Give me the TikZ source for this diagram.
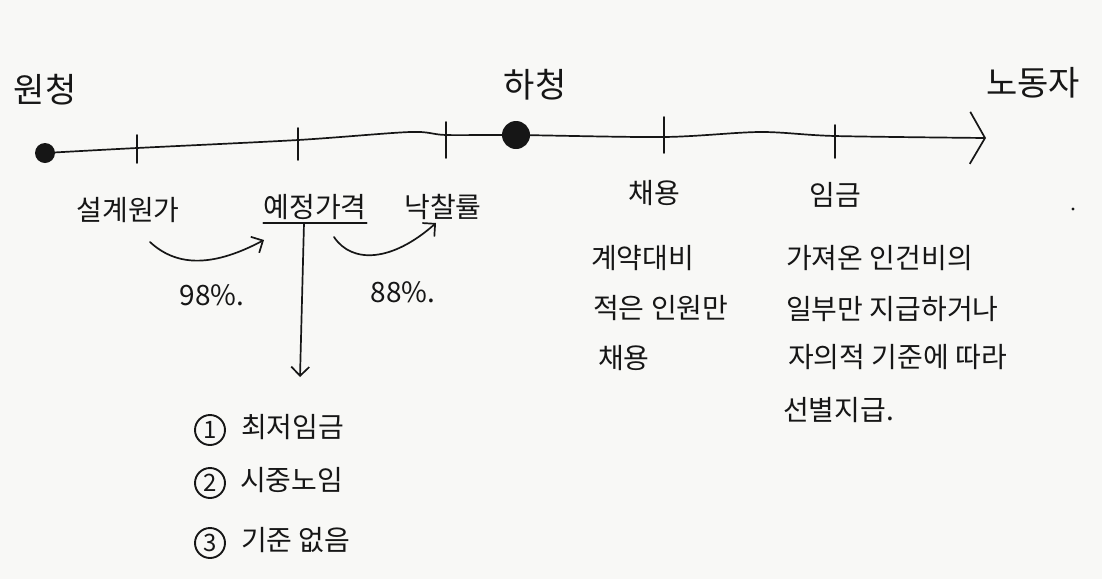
\documentclass[tikz,border=0pt]{standalone}
\usepackage{fontspec}
\setmainfont{Noto Sans CJK KR}
\usetikzlibrary{arrows.meta}
\definecolor{paper}{HTML}{F8F8F6}
\definecolor{inkc}{HTML}{161616}
\begin{document}
\begin{tikzpicture}[x=1pt,y=-1pt,
  pen/.style={draw=inkc, line width=1.7pt, line cap=round, line join=round},
  tick/.style={draw=inkc, line width=1.6pt, line cap=round},
  big/.style={text=inkc, font=\fontsize{34}{38}\selectfont, inner sep=0pt},
  lbl/.style={text=inkc, font=\fontsize{28}{32}\selectfont, inner sep=0pt},
  body/.style={text=inkc, font=\fontsize{28}{32}\selectfont, inner sep=0pt, anchor=west},
  dot/.style={circle, fill=inkc, inner sep=0pt},
  num/.style={circle, draw=inkc, line width=1.9pt, text=inkc, minimum size=30pt, inner sep=0pt, font=\fontsize{24}{24}\selectfont},
  barb/.style={-{Straight Barb[length=9pt,width=18pt]}},
  ]
\fill[paper] (0,0) rectangle (1102,579);
\useasboundingbox (0,0) rectangle (1102,579);

% actors
\node[big] (wonL) at (45,90) {원청};
\node[big] (haL) at (535,85) {하청};
\node[big] (noL) at (1033,83) {노동자};

% main axis
\node[dot, minimum size=20pt] (won) at (45,153) {};
\node[dot, minimum size=28pt] (ha) at (516,135) {};
\coordinate (t1) at (137,148);
\coordinate (t2) at (298,140);
\coordinate (m1) at (410,132);
\coordinate (t3) at (446,135);
\coordinate (t4) at (664,137);
\coordinate (m2) at (760,132);
\coordinate (t5) at (835,136);
\coordinate (axend) at (986,138);
\draw[pen, -{Straight Barb[length=15pt,width=52pt]}] plot[smooth, tension=0.5] coordinates {(won.center) (t1) (t2) (m1) (t3) (ha.center) (t4) (m2) (t5) (axend)};

% ticks (yshift is in page direction: positive = up)
\draw[tick] ([yshift=13]t1) -- ([yshift=-15]t1);
\draw[tick] ([yshift=12]t2) -- ([yshift=-20]t2);
\draw[tick] ([yshift=13]t3) -- ([yshift=-23]t3);
\draw[tick] ([yshift=20]t4) -- ([yshift=-16]t4);
\draw[tick] ([yshift=11]t5) -- ([yshift=-22]t5);

% price labels
\node[lbl] (sg) at (128,210) {설계원가};
\node[lbl] (yj) at (315,207) {예정가격};
\node[lbl] (nc) at (443,207) {낙찰률};
\draw[pen] ([yshift=-3]yj.south west) -- ([yshift=-3]yj.south east);
\coordinate (down) at (300,377);
\coordinate (ulm) at ([yshift=-3]yj.south -| 304,0);
\draw[pen, barb] (ulm) -- (down);

\coordinate (a1s) at (150,242);
\coordinate (a1e) at (264,240);
\draw[pen, barb] (a1s) .. controls (178,268) and (215,266) .. (a1e);
\coordinate (a2s) at (334,237);
\coordinate (a2e) at (436,223);
\draw[pen, barb] (a2s) .. controls (352,264) and (392,262) .. (a2e);

\node[lbl] (p98) at (212,295) {98\%.};
\node[lbl] (p88) at (403,292) {88\%.};

% list under 예정가격
\node[num] (n1) at (210,430) {1};
\node[body] (l1) at (241,427) {최저임금};
\node[num] (n2) at (210,483) {2};
\node[body] (l2) at (240,480) {시중노임};
\node[num] (n3) at (210,543) {3};
\node[body] (l3) at (241,540) {기준 없음};

% 채용
\node[lbl] (cy) at (654,193) {채용};
\node[body] (c1) at (591,258) {계약대비};
\node[body] (c2) at (593,308) {적은 인원만};
\node[body] (c3) at (598,358) {채용};

% 임금
\node[lbl] (ig) at (835,195) {임금};
\node[body] (w1) at (786,258) {가져온 인건비의};
\node[body] (w2) at (786,309) {일부만 지급하거나};
\node[body] (w3) at (788,357) {자의적 기준에 따라};
\node[body] (w4) at (783,410) {선별지급.};

\fill[inkc] (1073,209) circle (1.6);
\end{tikzpicture}
\end{document}
